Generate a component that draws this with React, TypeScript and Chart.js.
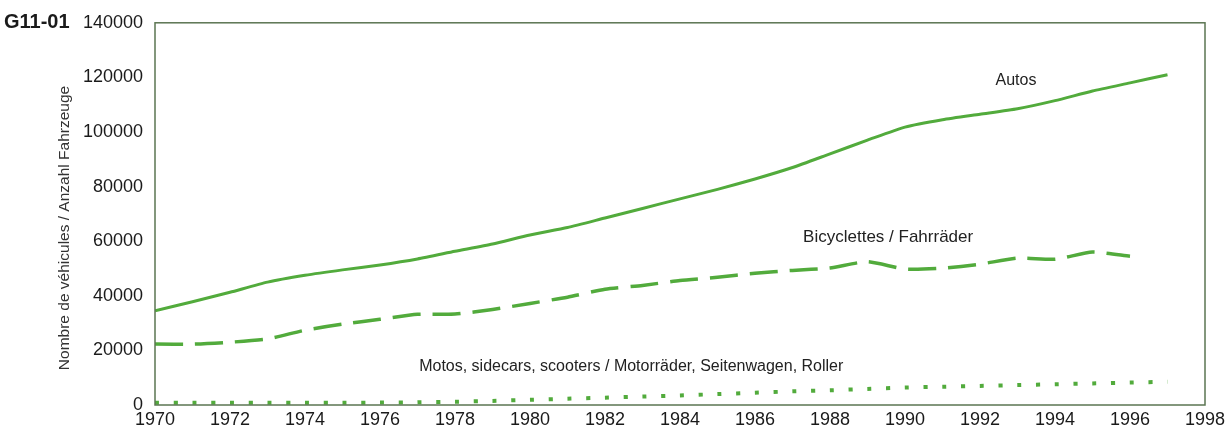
import React, { useEffect, useRef } from "react";
import { Chart, registerables } from "chart.js";

Chart.register(...registerables);

const years = [1970, 1971, 1972, 1973, 1974, 1975, 1976, 1977, 1978, 1979, 1980, 1981, 1982, 1983, 1984, 1985, 1986, 1987, 1988, 1989, 1990, 1991, 1992, 1993, 1994, 1995, 1996, 1997];
const autos = [34500, 37800, 41300, 45000, 47500, 49500, 51300, 53500, 56300, 59000, 62300, 65000, 68500, 72000, 75500, 79000, 82800, 87000, 92000, 97000, 101800, 104500, 106500, 108500, 111500, 115000, 118000, 121000];
const bicycles = [22300, 22300, 23000, 24200, 27400, 29600, 31400, 33200, 33300, 35000, 37200, 39500, 42400, 43800, 45600, 46800, 48300, 49300, 50200, 52500, 49800, 50100, 51600, 53800, 53400, 56000, 54500, null];
const motos = [800, 800, 800, 800, 800, 800, 900, 1000, 1200, 1500, 1900, 2300, 2700, 3100, 3500, 4000, 4500, 5000, 5400, 5900, 6400, 6700, 7000, 7300, 7600, 7900, 8200, 8500];

const seriesNames = ["Autos", "Bicyclettes / Fahrräder", "Motos, sidecars, scooters / Motorräder, Seitenwagen, Roller"];
const labelYears = [1992.96, 1989.55, 1982.7];
const labelValues = [118800, 61400, 13900];

const chartCode = "G11-01";
const yTitle = "Nombre de véhicules / Anzahl Fahrzeuge";

const FONT = "'Liberation Sans', Arial, sans-serif";
const GREEN = "#52ab3c";
const FRAME = "#5b7552";

export default function App() {
  const ref = useRef<HTMLCanvasElement | null>(null);

  useEffect(() => {
    if (!ref.current) return;
    const toPts = (arr: (number | null)[]) => years.map((y, i) => ({ x: y, y: arr[i] }));

    const decor = {
      id: "decor",
      afterDraw(chart: any) {
        const { ctx, chartArea, scales } = chart;
        ctx.save();
        ctx.strokeStyle = FRAME;
        ctx.lineWidth = 1.5;
        ctx.strokeRect(chartArea.left, chartArea.top, chartArea.right - chartArea.left, chartArea.bottom - chartArea.top);
        ctx.fillStyle = "#1a1a1a";
        ctx.font = `bold 20px ${FONT}`;
        ctx.textAlign = "left";
        ctx.textBaseline = "middle";
        ctx.fillText(chartCode, 4, 22);
        ctx.save();
        ctx.translate(65, 228);
        ctx.rotate(-Math.PI / 2);
        ctx.font = `15.5px ${FONT}`;
        ctx.fillStyle = "#333";
        ctx.textAlign = "center";
        ctx.fillText(yTitle, 0, 0);
        ctx.restore();
        ctx.fillStyle = "#222";
        ctx.textAlign = "center";
        seriesNames.forEach((n, i) => {
          ctx.font = `${i === 1 ? 17 : 16}px ${FONT}`;
          ctx.fillText(n, scales.x.getPixelForValue(labelYears[i]), scales.y.getPixelForValue(labelValues[i]));
        });
        ctx.restore();
      },
    };

    const chart = new Chart(ref.current, {
      type: "line",
      data: {
        datasets: [
          {
            label: seriesNames[0],
            data: toPts(autos),
            borderColor: GREEN,
            borderWidth: 3,
            pointRadius: 0,
            tension: 0.2,
          },
          {
            label: seriesNames[1],
            data: toPts(bicycles),
            borderColor: GREEN,
            borderWidth: 3.5,
            borderDash: [28, 12],
            pointRadius: 0,
            tension: 0.2,
            spanGaps: false,
          },
          {
            label: seriesNames[2],
            data: toPts(motos),
            borderColor: GREEN,
            borderWidth: 4,
            borderDash: [4, 14.75],
            pointRadius: 0,
            tension: 0.2,
          },
        ],
      },
      options: {
        responsive: false,
        animation: false,
        layout: { padding: { top: 22, right: 25, bottom: 0, left: 0 } },
        plugins: { legend: { display: false }, tooltip: { enabled: false } },
        scales: {
          x: {
            type: "linear",
            min: 1970,
            max: 1998,
            grid: { display: false, drawTicks: false },
            border: { display: false },
            ticks: {
              stepSize: 2,
              padding: 4,
              color: "#1a1a1a",
              font: { family: FONT, size: 18 },
              maxRotation: 0,
              callback: (v: any) => String(v),
            },
            afterFit: (s: any) => {
              s.height = 35;
            },
          },
          y: {
            min: 0,
            max: 140000,
            grid: { display: false, drawTicks: false },
            border: { display: false },
            ticks: {
              stepSize: 20000,
              padding: 12,
              color: "#1a1a1a",
              font: { family: FONT, size: 18 },
              callback: (v: any) => String(v),
            },
            afterFit: (s: any) => {
              s.width = 155;
            },
          },
        },
      },
      plugins: [decor],
    });
    return () => chart.destroy();
  }, []);

  return (
    <div style={{ position: "absolute", left: 0, top: 0, width: 1230, height: 440, background: "#fff" }}>
      <canvas ref={ref} width={1230} height={440} />
    </div>
  );
}
